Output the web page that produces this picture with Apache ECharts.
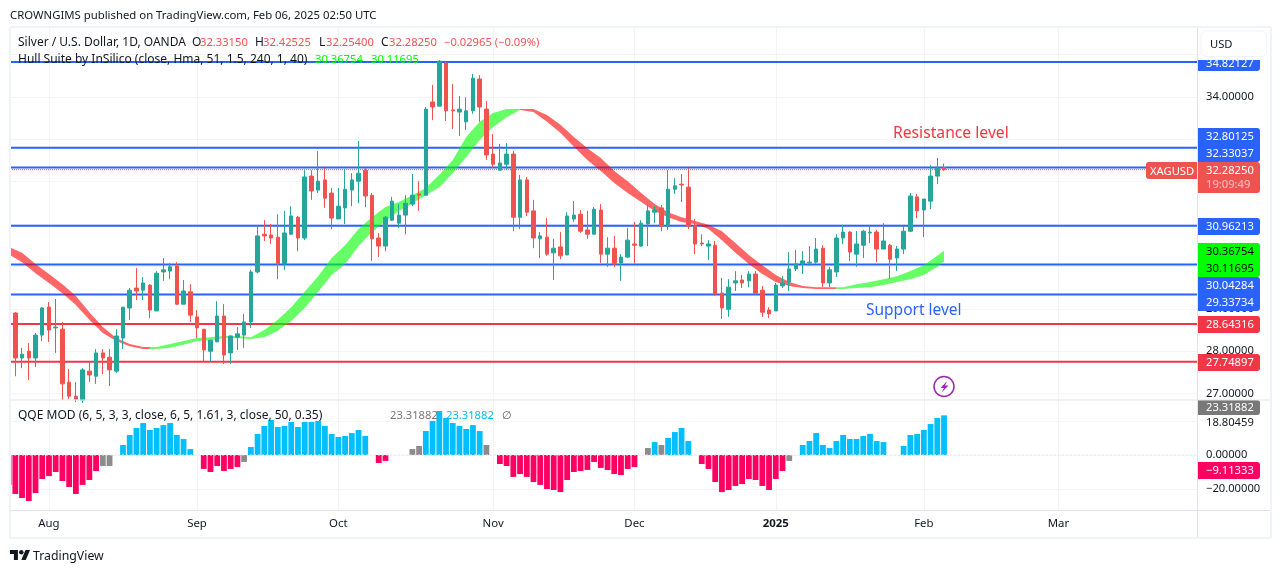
<!DOCTYPE html>
<html><head><meta charset="utf-8">
<script src="https://cdn.jsdelivr.net/npm/echarts@6/dist/echarts.min.js"></script>
<style>html,body{margin:0;padding:0;background:#fff}#c{width:1281px;height:573px}</style>
</head><body><div id="c"></div>
<script>
const firstBar = -6;
const opens = [29.21,28.90,27.84,28.00,27.84,28.38,29.04,28.55,28.52,27.27,
26.94,26.85,27.53,27.41,27.96,27.86,27.53,28.31,29.02,29.49,
29.44,29.56,28.95,29.87,29.89,30.01,29.11,29.40,28.81,28.52,
28.00,28.22,28.83,27.96,28.33,28.38,28.69,29.87,30.76,30.74,
30.69,30.06,30.76,31.16,30.67,32.13,31.80,32.04,31.73,31.12,
31.38,31.80,32.01,32.27,31.68,30.67,30.48,31.09,31.02,31.21,
31.47,31.71,31.68,33.88,33.78,34.80,33.69,33.64,33.41,33.67,
34.42,33.71,32.65,32.27,32.41,32.65,31.16,32.04,31.31,30.65,
30.69,30.32,30.46,30.27,31.12,31.23,30.86,30.76,31.33,30.29,
30.43,30.08,30.22,30.53,30.48,31.00,31.28,31.38,30.95,31.82,
31.94,31.87,30.95,30.55,30.48,30.50,29.37,28.99,29.61,29.68,
29.66,29.82,29.44,28.97,28.95,29.54,29.63,29.94,30.06,30.08,
30.10,30.43,29.61,29.87,30.67,30.81,30.29,30.50,30.79,30.81,
30.41,30.50,30.20,30.41,30.83,31.64,31.33,31.54,32.13,32.3315];
const closes = [28.90,27.84,27.93,27.84,28.38,29.02,28.50,28.57,27.23,26.94,
26.87,27.56,27.44,27.96,27.84,27.56,28.36,29.04,29.44,29.42,
29.61,28.97,29.84,29.92,29.99,29.11,29.42,28.85,28.55,28.03,
28.26,28.83,27.91,28.36,28.41,28.69,29.87,30.72,30.72,30.67,
30.06,30.79,31.19,30.67,32.11,31.78,32.01,31.61,31.14,31.42,
31.82,32.04,32.20,31.66,30.65,30.48,31.16,31.54,31.21,31.49,
31.68,31.68,33.71,33.76,34.84,33.67,33.67,33.71,33.67,34.44,
33.76,32.63,32.41,32.44,32.65,31.16,32.04,31.28,30.67,30.72,
30.29,30.43,30.25,31.19,31.21,30.83,30.76,31.35,30.29,30.43,
30.06,30.22,30.62,30.50,31.02,31.31,31.33,30.95,31.82,31.90,
31.92,30.95,30.53,30.53,30.53,29.35,29.02,29.51,29.66,29.61,
29.82,29.37,28.92,28.88,29.56,29.61,29.94,30.06,30.13,30.10,
30.41,29.61,29.92,30.67,30.81,30.34,30.53,30.83,30.81,30.41,
30.60,30.17,30.41,30.83,31.66,31.31,31.59,32.13,32.32,32.2825];
const lows = [28.85,27.41,27.60,27.32,27.63,28.24,28.22,27.96,26.85,26.87,
26.80,26.78,27.27,27.23,27.46,27.18,27.49,28.05,28.74,29.21,
29.21,28.78,28.95,29.66,29.70,29.09,29.11,28.69,28.31,27.75,
27.75,28.22,27.70,27.70,28.03,28.08,28.55,29.84,30.60,30.53,
29.70,29.92,30.74,30.36,30.62,31.57,31.73,31.38,30.88,31.12,
31.00,31.42,31.49,31.40,30.13,30.22,30.36,31.07,30.91,30.76,
31.42,31.31,31.68,33.45,33.78,33.43,33.24,33.08,33.22,33.60,
33.41,32.51,32.32,32.27,32.27,30.83,30.88,31.19,30.43,30.20,
30.25,29.68,30.17,30.27,31.05,30.79,30.65,30.76,30.08,29.99,
29.99,29.66,30.20,30.06,30.46,30.48,31.02,30.83,30.86,31.71,
31.52,30.88,30.29,30.48,30.15,29.30,28.76,28.81,29.42,29.49,
29.51,29.33,28.81,28.78,28.95,29.49,29.42,29.89,29.82,30.01,
30.06,29.51,29.51,29.75,30.53,30.13,29.99,30.20,30.55,30.10,
30.41,29.70,29.89,30.29,30.81,31.14,30.69,31.35,31.94,32.254];
const highs = [29.25,28.92,28.08,28.19,28.43,29.04,29.16,29.23,28.69,27.58,
27.27,27.60,27.75,28.05,28.05,28.05,28.52,29.04,29.49,29.96,
29.75,29.58,29.89,30.20,30.08,30.10,29.68,29.58,28.97,28.52,
28.26,29.18,29.11,28.38,28.57,28.88,29.92,30.95,31.09,31.00,
31.23,31.31,31.42,31.19,32.27,32.27,32.72,32.32,31.85,31.85,
32.30,32.20,32.96,32.32,31.73,30.79,31.19,31.64,31.47,31.68,
32.18,32.01,33.76,34.28,34.87,34.84,34.30,34.02,33.99,34.54,
34.51,33.90,33.12,32.89,32.91,32.72,32.16,32.11,31.57,30.81,
31.14,30.65,30.81,31.28,31.54,31.33,31.31,31.40,31.47,30.69,
30.72,30.29,30.91,31.05,31.09,31.47,31.42,31.45,32.27,32.08,
32.18,32.32,31.12,30.76,30.62,30.60,29.73,29.70,29.89,29.80,
29.89,29.89,29.54,29.04,29.61,29.77,30.34,30.39,30.36,30.48,
30.67,30.50,29.99,30.76,30.98,30.83,30.83,30.86,30.95,30.86,
31.02,30.53,30.48,30.95,31.73,31.71,31.59,32.39,32.56,32.42525];

const hullIndex = [-6,-4,-2,0,2,4,6,8,10,12,14,15,16,18,20,22,24,26,28,30,32,34,36,38,40,42,44,46,48,50,52,54,56,58,60,62,64,66,68,70,72,74,76,78,80,82,84,86,88,90,92,94,96,98,100,102,104,106,108,110,112,114,116,117,118,120,122,124,126,128,130,132,133];
const hullUpper = [30.46,30.32,30.06,29.82,29.58,29.30,28.92,28.57,28.31,28.17,28.10,28.10,28.10,28.17,28.24,28.31,28.33,28.36,28.36,28.33,28.50,28.74,29.04,29.40,29.77,30.20,30.50,30.88,31.16,31.40,31.52,31.68,31.85,32.16,32.51,33.05,33.41,33.62,33.71,33.71,33.71,33.57,33.34,33.05,32.79,32.56,32.25,32.01,31.73,31.47,31.28,31.16,31.07,30.98,30.83,30.55,30.27,30.03,29.80,29.63,29.54,29.51,29.51,29.51,29.51,29.58,29.63,29.70,29.77,29.89,30.03,30.25,30.36754];
const hullLower = [30.29,30.10,29.84,29.61,29.37,29.09,28.74,28.43,28.24,28.12,28.05,28.05,28.05,28.08,28.15,28.24,28.26,28.31,28.31,28.29,28.33,28.48,28.71,29.02,29.40,29.80,30.06,30.48,30.81,31.07,31.31,31.49,31.68,31.87,32.20,32.58,32.98,33.29,33.52,33.69,33.64,33.41,33.15,32.82,32.51,32.25,31.97,31.73,31.52,31.31,31.16,31.05,31.00,30.88,30.62,30.32,30.06,29.82,29.63,29.54,29.49,29.47,29.47,29.47,29.47,29.49,29.51,29.56,29.63,29.70,29.80,29.99,30.11695];
const hullTurnBars = [-6,15,70,117,133];
const hullColors = ['rgba(255,0,0,0.6)','rgba(0,255,0,0.6)','rgba(255,0,0,0.6)','rgba(0,255,0,0.6)'];

const blueLevels = [34.82127,32.80125,32.33037,30.96213,30.04284,29.33734];
const redLevels = [28.64316,27.74897];
const lastPrice = 32.2825;

const qqeValues = [-17.6,-22.9,-25.3,-27.1,-22.4,-14.1,-12.4,-10,-15.3,-18.8,
-22.9,-17.6,-14.7,-9.4,-6.5,-6.5,null,5.9,11.8,15.9,
18.8,14.7,15.9,17.6,18.8,11.8,9.4,3.5,null,-8.2,
-10,-6.5,-9.4,-8.2,-7.1,-4.1,4.7,12.4,17.1,20.6,
16.5,17.1,19.4,16.5,19.4,19.4,20,17.1,12.4,10.6,
11.2,12.9,14.7,11.2,null,-4.7,-3.5,null,null,null,
3.5,5.3,14.1,20,25.9,21.8,18.8,17.1,15.3,17.6,
14.1,5.9,null,-5.3,-6.5,-12.9,-11.2,-12.9,-15.9,-17.6,
-20,-20.6,-21.8,-14.7,-10,-9.4,-8.8,-4.1,-7.6,-8.8,
-11.2,-11.8,-8.2,-7.1,null,4.1,7.6,5.9,10,13.5,
15.9,8.2,null,-5.3,-8.2,-15.9,-21.8,-20.6,-18.2,-17.1,
-14.1,-14.7,-18.2,-20.6,-14.1,-9.4,-3.5,null,5.9,8.2,
12.9,5.9,4.1,8.2,11.8,9.4,9.4,11.2,12.4,8.2,
7.6,null,null,5.3,11.8,12.4,14.7,18.2,21.8,23.31882];
const qqeStates = ('pppppppppppppp'+'gg'+'-'+'bbbbbbbbbbb'+'-'+'pppppp'+'g'+'bbbbbbbbbbbbbbbbbb'+'-'+'pp'+'---'+'gg'+'bbbbbbbbb'+'g'+'-'+'ppppppppppppppppppppp'+'-'+'g'+'b'+'g'+'bbbb'+'-'+'ppppppppppppp'+'g'+'-'+'bbbbbbbbbbbbb'+'--'+'bbbbbbb').split('');
const qqeColors = {p:'#ff0062',g:'#8c8c8c',b:'#00bfff','-':'#ffffff'};

const monthBars = [0,22,43,66,87,108,130,150];
const monthLabels = ['Aug','Sep','Oct','Nov','Dec','2025','Feb','Mar'];
const priceLabelTicks = [27,28,29,30,31,32,33,34,35];
const qqeGridTicks = [20,0,-20];
const qqeLabelTicks = [18.80459,0,-20];

const FONT = '"Noto Sans", sans-serif';
const UP='#26a69a', DOWN='#ef5350', BLUE='#2962ff', RED='#f23645', GRID='#f3f4f6', SEP='#e0e3eb', FRAME='#f0f3fa';
const xMin=-5.79, xMax=170.59;

const candleData = opens.map((o,i)=>[firstBar+i,o,closes[i],lows[i],highs[i]]);
const qqeData = qqeValues.map((v,i)=>[firstBar+i,v]);

const levelSeries = (v,color,z,type,width)=>({type:'line',xAxisIndex:0,yAxisIndex:0,silent:true,symbol:'none',z:z,
  data:[[xMin,v],[xMax,v]],lineStyle:{color:color,width:width,type:type},animation:false});

const hullPoly = {type:'custom',xAxisIndex:0,yAxisIndex:0,z:2,clip:true,silent:true,
  data:hullColors.map((c,i)=>[i]),encode:{x:0},
  renderItem:(params,api)=>{
    const s=params.dataIndex, from=hullTurnBars[s], to=hullTurnBars[s+1], up=[], lo=[];
    hullIndex.forEach((b,i)=>{ if(b>=from&&b<=to){up.push(api.coord([b,hullUpper[i]]));lo.unshift(api.coord([b,hullLower[i]]));} });
    return {type:'polygon',shape:{points:up.concat(lo)},style:{fill:hullColors[s]}};
  }};

const NUM=11.2, TXT=12;
const T=(text,x,y,fill,size,extra)=>Object.assign({type:'text',z:110,silent:true,style:{text:text,x:x,y:y+1,fill:fill,font:(size||NUM)+'px '+FONT,verticalAlign:'middle',align:'left'}},extra||{});
const R=(x,y,w,h,fill,r,z)=>({type:'rect',z:z||105,silent:true,shape:{x:x,y:y,width:w,height:h,r:r||0},style:{fill:fill}});
const L=(x1,y1,x2,y2,color,w)=>({type:'line',z:120,silent:true,shape:{x1:x1,y1:y1,x2:x2,y2:y2},style:{stroke:color,lineWidth:w||1}});

const TR=[0,3,3,0];
const tags=[
 {y:51,h:20,fill:BLUE,text:[['34.82127',63.5,'#fff']]},
 {y:128,h:34,fill:BLUE,text:[['32.80125',137,'#fff'],['32.33037',153.5,'#fff']]},
 {y:162,h:31,fill:DOWN,text:[['32.28250',171,'#fff'],['19:09:49',185,'rgba(255,255,255,0.65)']]},
 {y:218,h:17,fill:BLUE,text:[['30.96213',227,'#fff']]},
 {y:243,h:34,fill:'#00ff00',text:[['30.36754',252,'#000'],['30.11695',268.5,'#000']]},
 {y:277,h:34,fill:BLUE,text:[['30.04284',286,'#fff'],['29.33734',302.5,'#fff']]},
 {y:316,h:17,fill:RED,text:[['28.64316',324.5,'#fff']]},
 {y:354,h:17,fill:RED,text:[['27.74897',362.5,'#fff']]},
 {y:400,h:15,fill:'#787878',text:[['23.31882',407.5,'#fff']]},
 {y:462,h:17,fill:'#ff0062',text:[['\u22129.11333',470.5,'#fff']]}
];
const graphics=[];
tags.forEach(t=>{graphics.push(R(1198,t.y,62,t.h,t.fill,TR));t.text.forEach(a=>graphics.push(T(a[0],1206,a[1]-1,a[2])));});
graphics.push(
 R(0,20,9,500,'#fff',0,104),
 R(1146,162,51,17,DOWN,[3,0,0,3]),T('XAGUSD',1150,170.5,'#fff'),
 R(1198,28,72,32,'#fff',0,115),
 {type:'rect',z:116,silent:true,shape:{x:1201,y:31,width:65.5,height:25.5,r:5},style:{fill:'#fff',stroke:FRAME,lineWidth:1}},
 T('USD',1210,43.5,'#131722',NUM,{z:117}),
 T('CROWNGIMS published on TradingView.com, Feb 06, 2025 02:50 UTC',10,15,'#131722',11.35),
 T('Silver / U.S. Dollar, 1D, OANDA',18,41.5,'#131722',TXT),
 T('O',192,41.5,'#131722',TXT),T('32.33150',200,41.5,DOWN),
 T('H',255,41.5,'#131722',TXT),T('32.42525',263,41.5,DOWN),
 T('L',319,41.5,'#131722',TXT),T('32.25400',326,41.5,DOWN),
 T('C',381,41.5,'#131722',TXT),T('32.28250',389,41.5,DOWN),
 T('\u22120.02965 (\u22120.09%)',444,41.5,DOWN),
 T('Hull Suite by InSilico (close, Hma, 51, 1.5, 240, 1, 40)',18,59,'#131722',TXT),
 T('30.36754',315,59,'#00ff00'),T('30.11695',371,59,'#00ff00'),
 T('QQE MOD (6, 5, 3, 3, close, 6, 5, 1.61, 3, close, 50, 0.35)',18,414.5,'#131722',TXT),
 T('23.31882',390,414.5,'#787878'),T('23.31882',446,414.5,'#00bfff'),T('\u2205',502,414.5,'#555'),
 T('Resistance level',893,132.5,RED,15.7),
 T('Support level',866,309.5,BLUE,15.5),
 T('TradingView',33,555,'#131722',12.3),
 {type:'polygon',z:110,silent:true,shape:{points:[[17.9,560],[13.9,560],[13.9,553.9],[10,553.9],[10,550],[17.9,550]]},style:{fill:'#131722'}},
 {type:'polygon',z:110,silent:true,shape:{points:[[25.8,560],[21.3,560],[25.5,550],[30,550]]},style:{fill:'#131722'}},
 {type:'circle',z:110,silent:true,shape:{cx:21.3,cy:552.2,r:2.25},style:{fill:'#131722'}},
 {type:'circle',z:110,silent:true,shape:{cx:944,cy:386.5,r:10},style:{fill:'#fff',stroke:'#9c27b0',lineWidth:1.5}},
 {type:'polygon',z:111,silent:true,shape:{points:[[947,381],[940.5,388],[944,388],[941.5,392.5],[948.5,385.5],[945,385.5]]},style:{fill:'#9c27b0'}},
 L(10,27,1271,27,FRAME,2),L(10,538,1271,538,FRAME,2),L(10,27,10,538,FRAME,2),L(1271,27,1271,538,FRAME,2),
 L(1197.5,28,1197.5,537,SEP),L(10,400,1270,400,SEP),L(10,510.5,1270,510.5,SEP)
);

const hiddenAxisParts={axisLine:{show:false},axisTick:{show:false}};
const option={
 animation:false,backgroundColor:'#fff',
 grid:[{left:10,top:28,width:1187,height:372},{left:10,top:400,width:1187,height:110}],
 xAxis:[
  Object.assign({type:'value',gridIndex:0,min:xMin,max:xMax,axisLabel:{show:false},
    splitLine:{show:true,lineStyle:{color:GRID,width:1}}},hiddenAxisParts,{axisTick:{show:false,customValues:monthBars}}),
  Object.assign({type:'value',gridIndex:1,min:xMin,max:xMax,
    splitLine:{show:true,lineStyle:{color:GRID,width:1}},
    axisLabel:{show:true,customValues:monthBars,margin:8,color:'#131722',fontFamily:'"Noto Sans", sans-serif',fontSize:11.4,
      formatter:v=>{const s=monthLabels[monthBars.indexOf(v)];return s==='2025'?'{b|'+s+'}':s;},
      rich:{b:{fontWeight:'bold',fontSize:11.4,fontFamily:'"Noto Sans", sans-serif',color:'#131722'}}}
  },hiddenAxisParts,{axisTick:{show:false,customValues:monthBars}})
 ],
 yAxis:[
  Object.assign({type:'value',gridIndex:0,position:'right',min:26.8496,max:35.6232,
    splitLine:{show:true,lineStyle:{color:GRID,width:1}},
    axisLabel:{customValues:priceLabelTicks,margin:9,padding:[2,0,0,0],color:'#131722',fontFamily:'"Noto Sans", sans-serif',fontSize:NUM,formatter:v=>v.toFixed(5)}
  },hiddenAxisParts,{axisTick:{show:false,customValues:priceLabelTicks}}),
  Object.assign({type:'value',gridIndex:1,position:'right',min:-32.35,max:32.35,
    splitLine:{show:true,lineStyle:{color:GRID,width:1}},
    axisLabel:{customValues:qqeLabelTicks,margin:9,padding:[2,0,0,0],color:'#131722',fontFamily:'"Noto Sans", sans-serif',fontSize:NUM,
      formatter:v=>(v<0?'\u2212':'')+Math.abs(v).toFixed(5)}
  },hiddenAxisParts,{axisTick:{show:false,customValues:qqeGridTicks}})
 ],
 series:[
  ...blueLevels.map(v=>levelSeries(v,BLUE,1,'solid',2)),
  ...redLevels.map(v=>levelSeries(v,RED,1,'solid',2)),
  levelSeries(lastPrice,DOWN,1,'dotted',1),
  hullPoly,
  {type:'candlestick',xAxisIndex:0,yAxisIndex:0,z:3,barWidth:4,data:candleData,silent:true,
   itemStyle:{color:UP,color0:DOWN,borderColor:UP,borderColor0:DOWN,borderWidth:1}},
  {type:'bar',xAxisIndex:1,yAxisIndex:1,z:3,barWidth:5.8,data:qqeData,silent:true,
   itemStyle:{color:p=>qqeColors[qqeStates[p.dataIndex]]}},
  {type:'line',xAxisIndex:1,yAxisIndex:1,z:4,symbol:'none',silent:true,data:[[xMin,0],[xMax,0]],
   lineStyle:{color:'#e6e8ee',width:1,type:[2,2]}}
 ],
 graphic:graphics
};
echarts.init(document.getElementById('c'),null,{renderer:'canvas'}).setOption(option);
</script></body></html>
